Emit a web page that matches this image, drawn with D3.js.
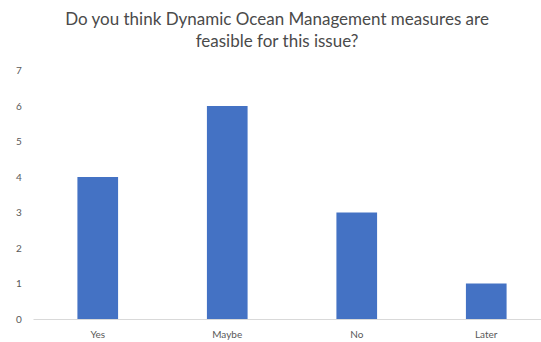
<!DOCTYPE html>
<html>
<head>
<meta charset="utf-8">
<script src="https://cdn.jsdelivr.net/npm/d3@7"></script>
<style>
  html, body { margin: 0; padding: 0; background: #fff; }
  svg { display: block; }
</style>
</head>
<body>
<svg id="chart" width="541" height="342"></svg>
<script>
const titleLines = ["Do you think Dynamic Ocean Management measures are", "feasible for this issue?"];
const categories = ["Yes", "Maybe", "No", "Later"];
const values = [4, 6, 3, 1];
const yTicks = [0, 1, 2, 3, 4, 5, 6, 7];

const W = 541, H = 342;
const svg = d3.select("#chart");
const font = "Lato, 'Open Sans', sans-serif";

const x = d3.scaleBand()
  .domain(categories)
  .range([33, 551])
  .paddingInner(0.686)
  .paddingOuter(0.343);

const y = d3.scaleLinear()
  .domain([0, 7])
  .range([319, 70.5]);

// title, two centred lines
svg.append("text")
  .attr("x", 277)
  .attr("y", 25)
  .attr("text-anchor", "middle")
  .attr("font-family", font)
  .attr("font-size", 17)
  .attr("fill", "#4a4a4a")
  .selectAll("tspan")
  .data(titleLines)
  .join("tspan")
  .attr("x", 277)
  .attr("dy", (d, i) => i === 0 ? 0 : 21.5)
  .text(d => d);

// y tick labels (no gridlines)
svg.append("g")
  .selectAll("text")
  .data(yTicks)
  .join("text")
  .attr("x", 19)
  .attr("y", d => y(d))
  .attr("dy", "0.35em")
  .attr("text-anchor", "middle")
  .attr("font-family", font)
  .attr("font-size", 10)
  .attr("fill", "#595959")
  .text(d => d);

// bars
svg.append("g")
  .selectAll("rect")
  .data(categories)
  .join("rect")
  .attr("x", d => x(d))
  .attr("y", (d, i) => y(values[i]))
  .attr("width", x.bandwidth())
  .attr("height", (d, i) => y(0) - y(values[i]))
  .attr("fill", "#4472C4");

// baseline axis
const xAxis = d3.axisBottom(x).tickSize(0).tickPadding(12);
const gx = svg.append("g")
  .attr("transform", `translate(0,${y(0)})`)
  .call(xAxis);
gx.select(".domain").attr("stroke", "#D9D9D9").attr("stroke-width", 1.2);
gx.selectAll("text")
  .attr("font-family", font)
  .attr("font-size", 10)
  .attr("fill", "#595959");
</script>
</body>
</html>
